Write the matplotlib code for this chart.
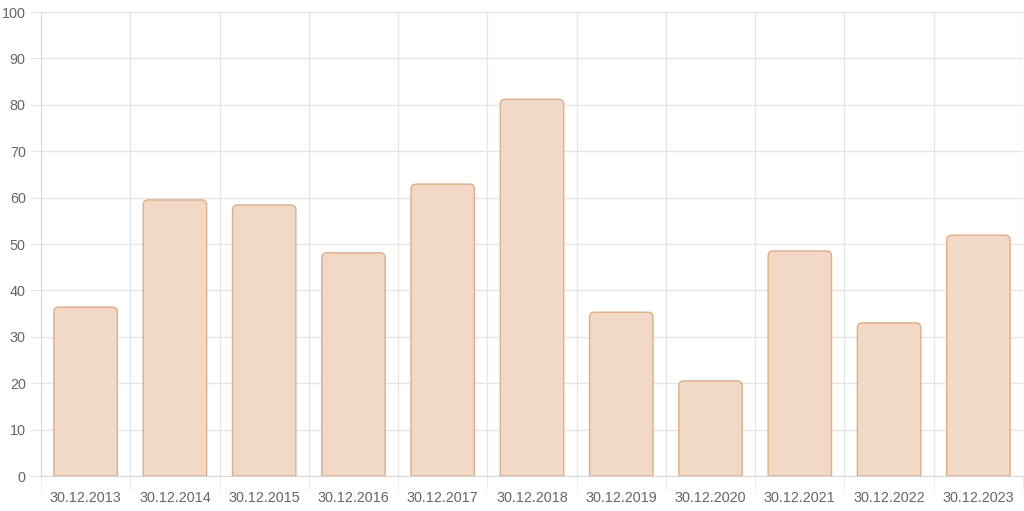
import matplotlib
matplotlib.use("Agg")
import matplotlib.pyplot as plt
from matplotlib.path import Path
from matplotlib.patches import PathPatch
import numpy as np

categories = ["30.12.2013", "30.12.2014", "30.12.2015", "30.12.2016", "30.12.2017",
              "30.12.2018", "30.12.2019", "30.12.2020", "30.12.2021", "30.12.2022",
              "30.12.2023"]
values = [36.4, 59.5, 58.4, 48.1, 62.9, 81.2, 35.3, 20.5, 48.5, 33.0, 51.9]
y_ticks = [0, 10, 20, 30, 40, 50, 60, 70, 80, 90, 100]

plt.rcParams['font.family'] = ['Liberation Sans', 'DejaVu Sans']

W, H = 1024, 511
fig = plt.figure(figsize=(W / 100, H / 100), dpi=100)
L, R, T, B = 41, 1023, 12, 476
ax = fig.add_axes([L / W, (H - B) / H, (R - L) / W, (B - T) / H])

grid_c = "#e6e6e6"
fill_c = "#f2d8c6"
edge_c = "#ddae88"

x = np.arange(len(categories))
ax.set_xlim(-0.5, len(categories) - 0.5)
ax.set_ylim(0, 100)

bars = ax.bar(x, values, width=0.71, color="none", edgecolor="none")

# rounded top corners (radius in pixels converted to data units)
px_per_x = (R - L) / len(categories)
px_per_y = (B - T) / 100.0
rad_px = 5
rx = rad_px / px_per_x
ry = rad_px / px_per_y
for b in bars:
    x0, w, h = b.get_x(), b.get_width(), b.get_height()
    x1 = x0 + w
    verts = [
        (x0, 0), (x0, h - ry), (x0, h), (x0 + rx, h),
        (x1 - rx, h), (x1, h), (x1, h - ry), (x1, 0), (x0, 0)
    ]
    codes = [Path.MOVETO, Path.LINETO, Path.CURVE3, Path.CURVE3,
             Path.LINETO, Path.CURVE3, Path.CURVE3, Path.LINETO, Path.CLOSEPOLY]
    p = PathPatch(Path(verts, codes), facecolor=fill_c, edgecolor=edge_c,
                  linewidth=1.0, zorder=3)
    ax.add_patch(p)

ax.set_yticks(y_ticks)
ax.set_xticks(x)
ax.set_xticklabels(categories)
ax.set_xticks(np.arange(-0.5, len(categories)), minor=True)

ax.grid(False)
for yt in y_ticks:
    ax.axhline(yt, color=grid_c, linewidth=1, zorder=1)
for xb in np.arange(-0.5, len(categories)):
    ax.axvline(xb, color=grid_c, linewidth=1, zorder=1)

for s in ax.spines.values():
    s.set_visible(False)
ax.spines['left'].set_visible(True)
ax.spines['bottom'].set_visible(True)
ax.spines['left'].set_color("#d8d8d8")
ax.spines['bottom'].set_color("#d8d8d8")

ax.tick_params(axis='y', length=8, color=grid_c, labelcolor="#666666",
               labelsize=10.4, pad=3)
ax.tick_params(axis='x', which='major', length=0, labelcolor="#666666",
               labelsize=10.4, pad=11)
ax.tick_params(axis='x', which='minor', length=9, color=grid_c)

fig.savefig("out.png", dpi=100, facecolor="white")
